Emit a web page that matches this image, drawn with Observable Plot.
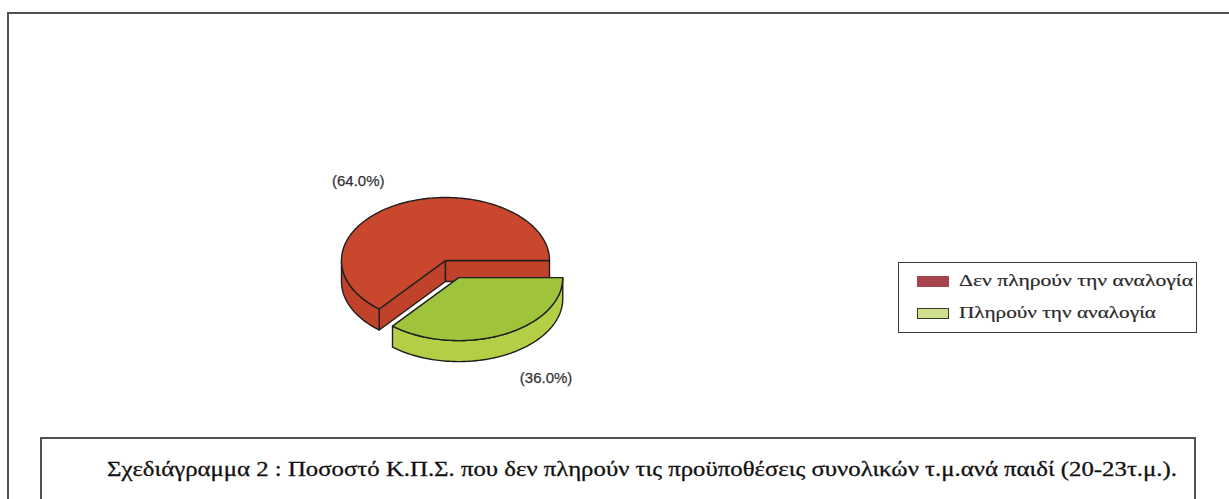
<!DOCTYPE html>
<html>
<head>
<meta charset="utf-8">
<script src="https://cdn.jsdelivr.net/npm/d3@7"></script>
<script src="https://cdn.jsdelivr.net/npm/@observablehq/plot@0.6"></script>
<style>
  html, body { margin: 0; padding: 0; background: #fff; }
  #page { position: relative; width: 1229px; height: 499px; overflow: hidden; background: #fff; }
  #frame { position: absolute; left: 7px; top: 12px; right: -5px; bottom: -10px;
           border-top: 2px solid #505050; border-left: 2px solid #505050; }
  #plot { position: absolute; left: 0; top: 0; }
  #legend { position: absolute; left: 898px; top: 262px; width: 297px; height: 69px;
            border: 1.5px solid #3a3a3a; background: #fff; }
  .row { position: absolute; left: 0; height: 16px; }
  .sw { position: absolute; left: 18px; width: 32px; height: 11px; box-sizing: border-box; }
  .lt { position: absolute; left: 60px; white-space: nowrap; font-family: "Liberation Serif", serif;
        font-size: 17px; color: #2a2a2a; transform-origin: 0 50%; line-height: 16px;
        -webkit-text-stroke: 0.2px #2a2a2a; }
  #capbox { position: absolute; left: 40px; top: 437px; width: 1152px; height: 100px;
            border: 2px solid #505050; }
  #caption { position: absolute; left: 107px; top: 457px; white-space: nowrap;
             font-family: "Liberation Serif", serif; font-size: 22px; color: #111;
             transform-origin: 0 50%; line-height: 24px; -webkit-text-stroke: 0.3px #111; }
</style>
</head>
<body>
<div id="page">
  <div id="frame"></div>
  <div id="plot"></div>
  <div id="legend"></div>
  <div id="capbox"></div>
  <div id="caption"></div>
</div>
<script>
// ---- data ----
const categories = ["Δεν πληρούν την αναλογία", "Πληρούν την αναλογία"];
const values = [64.0, 36.0];
const valueLabels = ["(64.0%)", "(36.0%)"];
const captionText = "Σχεδιάγραμμα 2 : Ποσοστό Κ.Π.Σ. που δεν πληρούν τις προϋποθέσεις συνολικών τ.μ.ανά παιδί (20-23τ.μ.).";

// ---- styles / layout ----
const topColors = ["#c9472d", "#9fc43b"];
const sideColors = ["#c0422a", "#b4cf46"];
const legendFill = ["#a6444e", "#cfe08c"];
const legendStroke = ["#a6444e", "#3a3a2a"];
const explode = [0, 0.3];
const cx = 445, cy = 260, rx = 104, ry = 63, depth = 21;

// slice angles (screen, clockwise from east); drawing order: back slice first
const total = d3.sum(values);
const order = [1, 0];
let acc = 0;
const slices = [];
for (const i of order) {
  const a0 = acc, a1 = acc + 2 * Math.PI * values[i] / total;
  acc = a1;
  const mid = (a0 + a1) / 2;
  const ox = explode[i] * rx * Math.cos(mid), oy = explode[i] * ry * Math.sin(mid);
  slices.push({i, a0, a1, mid, ox, oy});
}

function pt(s, a, dz) {
  return [cx + s.ox + rx * Math.cos(a), cy + s.oy + ry * Math.sin(a) + dz];
}
function arc(s, a0, a1, dz) {
  const n = Math.max(2, Math.ceil(Math.abs(a1 - a0) / 0.02));
  return d3.range(n + 1).map(k => pt(s, a0 + (a1 - a0) * k / n, dz));
}

const marks = [];
const polyMark = (pts, fill) => Plot.line(pts, {
  x: d => d[0], y: d => d[1], curve: "linear-closed",
  fill, stroke: "#1e1e1e", strokeWidth: 1.4, strokeLinejoin: "round"
});

for (const s of [...slices].sort((a, b) => explode[a.i] - explode[b.i])) {
  const c = [cx + s.ox, cy + s.oy];
  if (Math.cos(s.a0) < 0) {
    const e = pt(s, s.a0, 0), eb = pt(s, s.a0, depth);
    marks.push(polyMark([c, e, eb, [c[0], c[1] + depth]], sideColors[s.i]));
  }
  if (Math.cos(s.a1) > 0) {
    const e = pt(s, s.a1, 0), eb = pt(s, s.a1, depth);
    marks.push(polyMark([c, e, eb, [c[0], c[1] + depth]], sideColors[s.i]));
  }
  for (const base of [0, 2 * Math.PI]) {
    const lo = Math.max(s.a0, base), hi = Math.min(s.a1, base + Math.PI);
    if (hi > lo) {
      const top = arc(s, lo, hi, 0);
      const bot = arc(s, hi, lo, depth);
      marks.push(polyMark([...top, ...bot], sideColors[s.i]));
    }
  }
  marks.push(polyMark([c, ...arc(s, s.a0, s.a1, 0)], topColors[s.i]));
}

// percentage labels
const lrx = 205, lry = 88;
const labelData = slices.map(s => {
  const sn = Math.sin(s.mid);
  return {
    x: cx + s.ox + lrx * Math.cos(s.mid),
    y: cy + s.oy + lry * sn + (sn > 0 ? depth : 0),
    t: valueLabels[s.i]
  };
});
marks.push(Plot.text(labelData, {
  x: "x", y: "y", text: "t", fill: "#333",
  fontFamily: "Liberation Sans, Arial, sans-serif", fontSize: 15,
  letterSpacing: 2, stroke: "#333", strokeWidth: 0.25
}));

const chart = Plot.plot({
  width: 1229, height: 499, margin: 0,
  x: {type: "identity", axis: null},
  y: {type: "identity", axis: null},
  style: {background: "transparent"},
  marks
});
document.getElementById("plot").appendChild(chart);

// legend
const legend = document.getElementById("legend");
const rowTops = [13, 45];
categories.forEach((name, i) => {
  const row = document.createElement("div");
  row.className = "row";
  row.style.top = rowTops[i] + "px";
  row.style.width = "100%";
  const sw = document.createElement("div");
  sw.className = "sw";
  sw.style.background = legendFill[i];
  sw.style.border = "1.5px solid " + legendStroke[i];
  sw.style.top = "0px";
  const lt = document.createElement("div");
  lt.className = "lt";
  lt.textContent = name;
  lt.style.top = "-3px";
  row.appendChild(sw);
  row.appendChild(lt);
  legend.appendChild(row);
});
const targetW = [234, 197];
legend.querySelectorAll(".lt").forEach((el, i) => {
  const w = el.getBoundingClientRect().width;
  el.style.transform = `scaleX(${targetW[i] / w})`;
});

// caption
const cap = document.getElementById("caption");
cap.textContent = captionText;
const cw = cap.getBoundingClientRect().width;
cap.style.transform = `scaleX(${1070 / cw})`;
</script>
</body>
</html>
